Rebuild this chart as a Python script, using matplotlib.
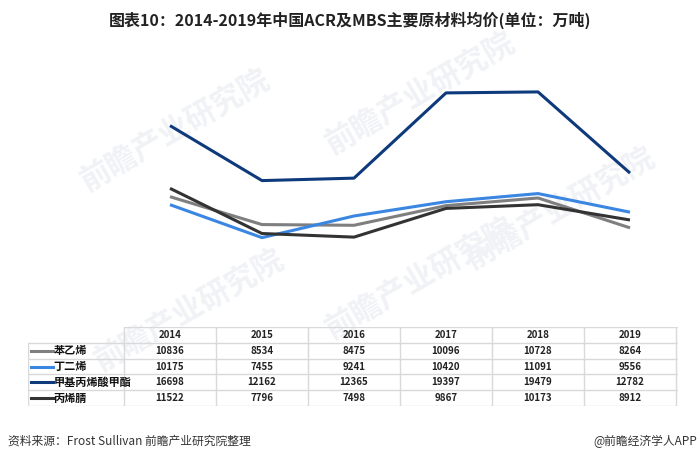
import matplotlib.pyplot as plt

plt.rcParams['font.family'] = ['Noto Sans CJK SC', 'DejaVu Sans']

# data
years = ['2014', '2015', '2016', '2017', '2018', '2019']
names = ['苯乙烯', '丁二烯', '甲基丙烯酸甲酯', '丙烯腈']
styrene = [10836, 8534, 8475, 10096, 10728, 8264]
butadiene = [10175, 7455, 9241, 10420, 11091, 9556]
mma = [16698, 12162, 12365, 19397, 19479, 12782]
acrylonitrile = [11522, 7796, 7498, 9867, 10173, 8912]
series = [styrene, butadiene, mma, acrylonitrile]
colors = ['#7f7f7f', '#3a86e0', '#0e3a7c', '#333333']

W, H = 700, 463
fig = plt.figure(figsize=(7, 4.63), dpi=100)


def box(x0, y0, x1, y1):
    # pixel box (top-left origin) -> figure fraction
    return [x0 / W, 1 - y1 / H, (x1 - x0) / W, (y1 - y0) / H]


# faint watermarks, behind everything
bg = fig.add_axes([0, 0, 1, 1], zorder=-1)
bg.axis('off')
for wx, wy in [(0.25, 0.72), (0.6, 0.80), (0.8, 0.55), (0.27, 0.33), (0.6, 0.40)]:
    bg.text(wx, wy, '前瞻产业研究院', fontsize=22, color='#f0f2f6', rotation=30,
            ha='center', va='center', fontweight='bold')

# line chart
ax = fig.add_axes(box(124, 25, 676, 328))
x = list(range(len(years)))
for vals, c in zip(series, colors):
    ax.plot(x, vals, color=c, lw=2.2, solid_capstyle='butt')
ax.set_xlim(-0.5, 5.5)
ax.set_ylim(0, 25000)
ax.axis('off')

# data table
tx0, tx1 = 28, 678
ty0, ty1 = 327, 406
tab = fig.add_axes(box(tx0, ty0, tx1, ty1))
lab_edge = -0.5 - (124 - tx0) / 92
tab.set_xlim(lab_edge, -0.5 + (tx1 - 124) / 92)
tab.set_ylim(5, 0)
tab.axis('off')
grid = '#d9d9d9'
# horizontal borders
tab.plot([-0.5, 5.52], [0, 0], color=grid, lw=1)
for r in range(1, 6):
    tab.plot([lab_edge, 5.52], [r, r], color=grid, lw=1)
# vertical borders
tab.plot([lab_edge, lab_edge], [1, 5], color=grid, lw=1)
for c in range(7):
    tab.plot([c - 0.5, c - 0.5], [0, 5], color=grid, lw=1)

for i, yr in enumerate(years):
    tab.text(i, 0.5, yr, ha='center', va='center', fontsize=7, fontweight='bold', color='#222222')
for r, (name, vals, c) in enumerate(zip(names, series, colors), start=1):
    tab.plot([lab_edge + 0.03, lab_edge + 0.27], [r + 0.5, r + 0.5], color=c, lw=2.2)
    tab.text(lab_edge + 0.28, r + 0.5, name, ha='left', va='center', fontsize=8,
             fontweight='bold', color='#111111')
    for i, v in enumerate(vals):
        tab.text(i, r + 0.5, str(v), ha='center', va='center', fontsize=7,
                 fontweight='bold', color='#222222')

# title and footer
fig.text(0.5, 1 - 20 / H, '图表10：2014-2019年中国ACR及MBS主要原材料均价(单位：万吨)',
         ha='center', va='center', fontsize=11.5, fontweight='bold', color='#222222')
fig.text(8 / W, 1 - 441 / H, '资料来源：Frost Sullivan 前瞻产业研究院整理',
         ha='left', va='center', fontsize=8.5, color='#333333')
fig.text(697 / W, 1 - 441 / H, '@前瞻经济学人APP',
         ha='right', va='center', fontsize=8.5, color='#333333')

fig.savefig('out.png', dpi=100)
